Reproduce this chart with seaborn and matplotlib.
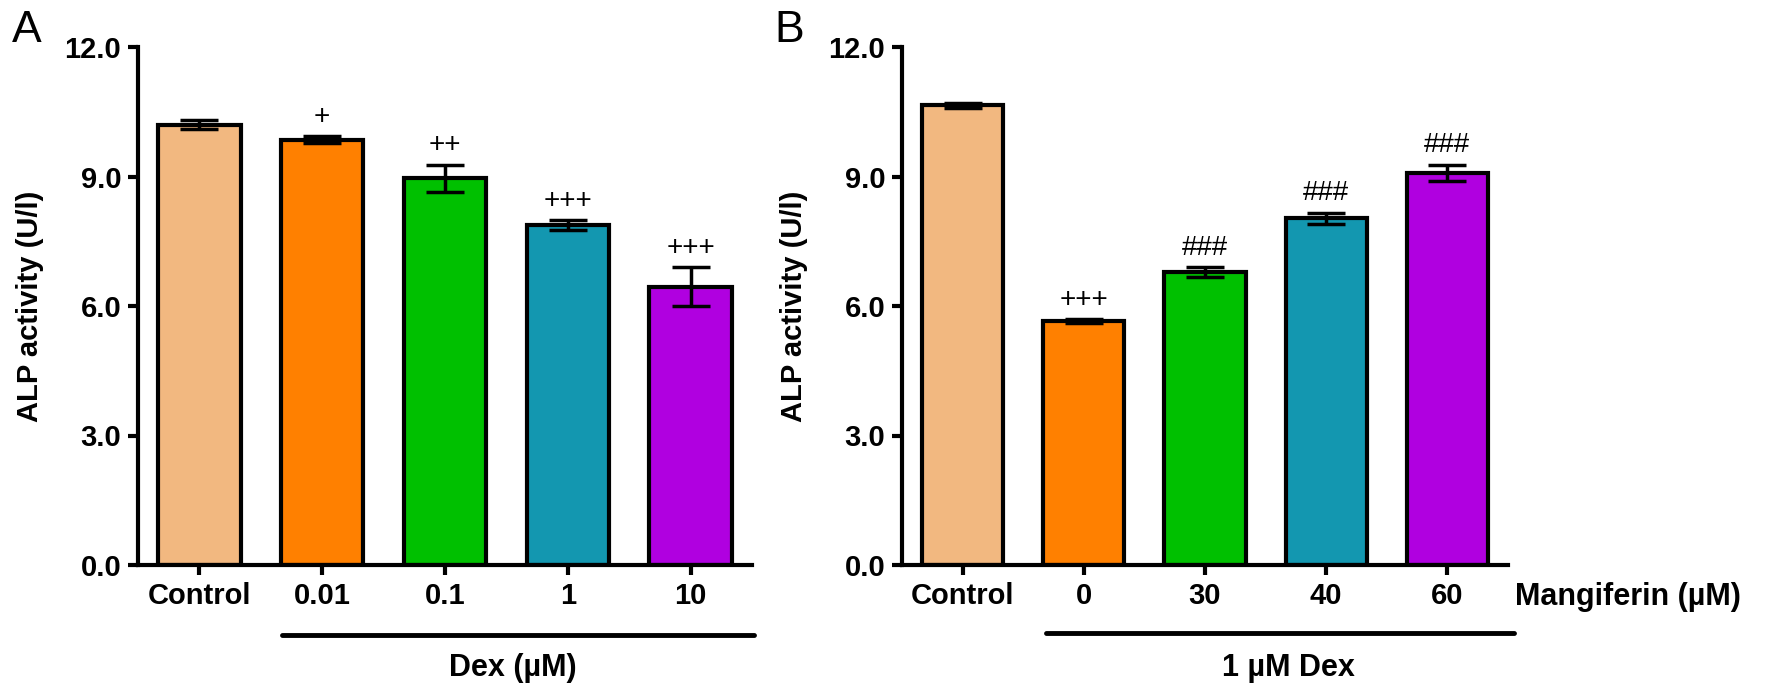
import numpy as np
import pandas as pd
import matplotlib.pyplot as plt
import seaborn as sns

# Panel A - Dex dose response
dex_groups = ['Control', '0.01', '0.1', '1', '10']
dex_alp = [10.20, 9.85, 8.96, 7.88, 6.45]
dex_sem = [0.11, 0.08, 0.31, 0.11, 0.45]
dex_marks = ['', '+', '++', '+++', '+++']

# Panel B - mangiferin on top of 1 uM Dex
mang_groups = ['Control', '0', '30', '40', '60']
mang_alp = [10.65, 5.65, 6.79, 8.03, 9.08]
mang_sem = [0.06, 0.04, 0.11, 0.13, 0.19]
mang_marks = ['', '+++', '###', '###', '###']

bar_colors = ['#F2B880', '#FF8000', '#00C000', '#1397B0', '#B000E0']
y_ticks = [0, 3, 6, 9, 12]

sns.set_style('ticks', {'axes.edgecolor': 'black', 'xtick.color': 'black',
                        'ytick.color': 'black', 'text.color': 'black'})
plt.rcParams['font.family'] = ['Liberation Sans', 'DejaVu Sans']
plt.rcParams['text.color'] = 'black'

W, H = 1772, 698
fig = plt.figure(figsize=(W / 100, H / 100), dpi=100)
axA = fig.add_axes([138 / W, (H - 565) / H, 614 / W, 518 / H])
axB = fig.add_axes([902 / W, (H - 565) / H, 606 / W, 518 / H])


def draw_panel(ax, groups, vals, sems, marks):
    df = pd.DataFrame({'group': groups, 'alp': vals})
    sns.barplot(data=df, x='group', y='alp', hue='group', palette=bar_colors,
                legend=False, width=0.67, edgecolor='black', linewidth=3,
                errorbar=None, saturation=1, ax=ax)
    ax.errorbar(np.arange(len(groups)), vals, yerr=sems, fmt='none',
                ecolor='black', elinewidth=2.5, capsize=14, capthick=2.5, zorder=5)
    for i, (v, s, m) in enumerate(zip(vals, sems, marks)):
        if m:
            ax.text(i, v + s + 0.45, m, ha='center', va='center', fontsize=20)
    ax.set_xlim(-0.5, 4.5)
    ax.set_ylim(0, 12)
    ax.set_yticks(y_ticks)
    ax.set_yticklabels([f'{t:.1f}' for t in y_ticks])
    ax.set_xlabel('')
    ax.set_ylabel('')
    sns.despine(ax=ax)
    for sp in ['left', 'bottom']:
        ax.spines[sp].set_linewidth(3)
        ax.spines[sp].set_color('black')
    ax.tick_params(axis='both', width=3, length=7, labelsize=21, pad=5,
                   color='black', labelcolor='black')
    plt.setp(ax.get_xticklabels(), fontweight='bold')
    plt.setp(ax.get_yticklabels(), fontweight='bold')


draw_panel(axA, dex_groups, dex_alp, dex_sem, dex_marks)
draw_panel(axB, mang_groups, mang_alp, mang_sem, mang_marks)

# group bars and labels under the x axis
trA = axA.get_xaxis_transform()
axA.plot([0.67, 4.52], [-0.135, -0.135], color='black', lw=3.5,
         transform=trA, clip_on=False)
axA.text(2.55, -0.199, 'Dex (µM)', transform=trA, ha='center', va='center',
         fontsize=22, fontweight='bold')

trB = axB.get_xaxis_transform()
axB.plot([0.69, 4.55], [-0.131, -0.131], color='black', lw=3.5,
         transform=trB, clip_on=False)
axB.text(2.69, -0.199, '1 µM Dex', transform=trB, ha='center', va='center',
         fontsize=22, fontweight='bold')
axB.text(4.56, -0.062, 'Mangiferin (µM)', transform=trB, ha='left',
         va='center', fontsize=22, fontweight='bold')

# y labels and panel letters
fig.text(30 / W, 1 - 306 / H, 'ALP activity (U/l)', rotation=90,
         ha='center', va='center', fontsize=21, fontweight='bold')
fig.text(794 / W, 1 - 306 / H, 'ALP activity (U/l)', rotation=90,
         ha='center', va='center', fontsize=21, fontweight='bold')
fig.text(12 / W, 1 - 30 / H, 'A', ha='left', va='center', fontsize=32)
fig.text(774 / W, 1 - 30 / H, 'B', ha='left', va='center', fontsize=32)

fig.savefig('out.png', dpi=100)
